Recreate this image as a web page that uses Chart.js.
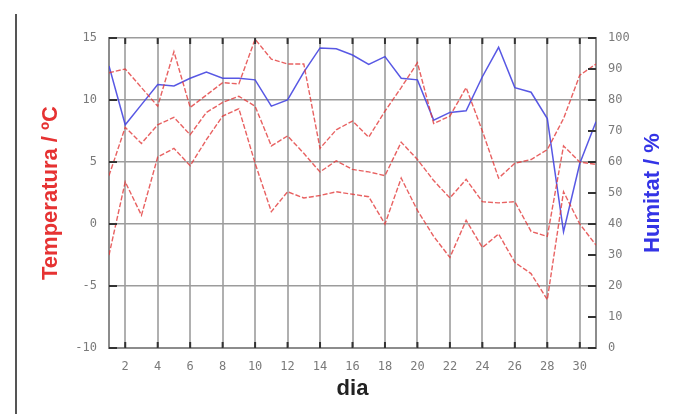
<!DOCTYPE html>
<html>
<head>
<meta charset="utf-8">
<script src="https://cdn.jsdelivr.net/npm/chart.js@4.4.1/dist/chart.umd.min.js"></script>
<style>
  html, body { margin: 0; padding: 0; background: #fff; }
  #wrap { position: relative; width: 682px; height: 414px; overflow: hidden; }
  #frame { position: absolute; left: 15px; top: 14px; width: 2px; height: 400px; background: #555; }
  canvas { position: absolute; left: 0; top: 0; }
</style>
</head>
<body>
<div id="wrap">
  <div id="frame"></div>
  <canvas id="chart" width="682" height="414"></canvas>
</div>
<script>
// days of the month and the labelled ticks
const days = [1, 2, 3, 4, 5, 6, 7, 8, 9, 10, 11, 12, 13, 14, 15, 16, 17, 18, 19, 20, 21, 22, 23, 24, 25, 26, 27, 28, 29, 30, 31];
const dayTicks = [2, 4, 6, 8, 10, 12, 14, 16, 18, 20, 22, 24, 26, 28, 30];

// temperature (ºC): max, mean, min
const tempMax = [12.2, 12.5, 11.0, 9.5, 13.9, 9.4, 10.4, 11.4, 11.3, 14.9, 13.3, 12.9, 12.9, 6.1, 7.6, 8.3, 7.0, 9.1, 11.0, 13.0, 8.1, 8.7, 11.0, 7.5, 3.7, 4.9, 5.2, 6.0, 8.5, 12.0, 12.9];
const tempMean = [3.9, 7.8, 6.5, 8.0, 8.6, 7.2, 9.0, 9.8, 10.3, 9.5, 6.3, 7.1, 5.7, 4.2, 5.1, 4.4, 4.2, 3.9, 6.6, 5.2, 3.5, 2.1, 3.6, 1.8, 1.7, 1.8, -0.6, -1.0, 6.3, 5.0, 4.8];
const tempMin = [-2.5, 3.4, 0.7, 5.4, 6.1, 4.7, 6.8, 8.7, 9.3, 4.9, 1.0, 2.6, 2.1, 2.3, 2.6, 2.4, 2.2, 0.0, 3.7, 1.1, -1.0, -2.7, 0.3, -1.9, -0.8, -3.1, -4.0, -6.1, 2.6, 0.0, -1.7];

// relative humidity (%)
const humidity = [91, 72, 78.5, 85, 84.5, 87, 89, 87, 87, 86.5, 78, 80, 89, 96.8, 96.5, 94.5, 91.5, 94, 87, 86.5, 73.5, 76, 76.5, 87.5, 97, 84, 82.5, 74, 37.5, 59.5, 73];

const tempTitle = "Temperatura / ºC";
const humTitle = "Humitat / %";
const dayTitle = "dia";

const RED = "rgba(226, 58, 58, 0.8)";
const BLUE = "rgba(70, 70, 225, 0.9)";
const tickFont = { family: "DejaVu Sans Mono", size: 12 };

const toPoints = (values) => days.map((d, i) => ({ x: d, y: values[i] }));

function redLine(values) {
  return {
    data: toPoints(values),
    yAxisID: "y",
    borderColor: RED,
    borderWidth: 1.4,
    borderDash: [5, 2],
    pointRadius: 0,
    tension: 0,
  };
}

// short dark tick marks drawn inside the plot frame
const innerTicks = {
  id: "innerTicks",
  afterDatasetsDraw(chart) {
    const { ctx, chartArea: a, scales } = chart;
    ctx.save();
    ctx.strokeStyle = "#333";
    ctx.lineWidth = 2;
    ctx.beginPath();
    scales.y.ticks.forEach((t) => {
      const py = scales.y.getPixelForValue(t.value);
      ctx.moveTo(a.left, py);
      ctx.lineTo(a.left + 8, py);
    });
    scales.y2.ticks.forEach((t) => {
      const py = scales.y2.getPixelForValue(t.value);
      ctx.moveTo(a.right - 8, py);
      ctx.lineTo(a.right, py);
    });
    dayTicks.forEach((d) => {
      const px = scales.x.getPixelForValue(d);
      ctx.moveTo(px, a.top);
      ctx.lineTo(px, a.top + 6);
      ctx.moveTo(px, a.bottom);
      ctx.lineTo(px, a.bottom - 6);
    });
    ctx.stroke();
    ctx.restore();
  },
  afterDraw(chart) {
    // right axis title reads bottom to top, like the left one
    const { ctx, chartArea: a } = chart;
    ctx.save();
    ctx.translate(653, (a.top + a.bottom) / 2);
    ctx.rotate(-Math.PI / 2);
    ctx.textAlign = "center";
    ctx.textBaseline = "middle";
    ctx.fillStyle = "#3434e6";
    ctx.font = "bold 22px 'Liberation Sans', Arial, sans-serif";
    ctx.fillText(humTitle, 0, 0);
    ctx.restore();
  },
};

new Chart(document.getElementById("chart"), {
  type: "line",
  data: {
    datasets: [
      redLine(tempMax),
      redLine(tempMean),
      redLine(tempMin),
      {
        data: toPoints(humidity),
        yAxisID: "y2",
        borderColor: BLUE,
        borderWidth: 1.5,
        pointRadius: 0,
        tension: 0,
      },
    ],
  },
  options: {
    responsive: false,
    animation: false,
    layout: { padding: { top: 38, left: 0, right: 0, bottom: 0 } },
    plugins: { legend: { display: false }, tooltip: { enabled: false } },
    scales: {
      x: {
        type: "linear",
        position: "bottom",
        min: 1,
        max: 31,
        afterBuildTicks: (s) => { s.ticks = dayTicks.map((v) => ({ value: v })); },
        afterFit: (s) => { s.height = 66; },
        grid: { color: "#b0b0b0", lineWidth: 2, drawTicks: false },
        border: { color: "#8c8c8c", width: 2 },
        ticks: { color: "#7a7a7a", font: tickFont, padding: 12, maxRotation: 0, autoSkip: false },
        title: {
          display: true,
          text: dayTitle,
          color: "#222",
          font: { family: "Liberation Sans", size: 22, weight: "bold" },
          padding: { top: 0, bottom: 12 },
        },
      },
      y: {
        position: "left",
        min: -10,
        max: 15,
        afterFit: (s) => { s.width = 109; },
        grid: { color: "#9c9c9c", lineWidth: 1.5, drawTicks: false },
        border: { color: "#8c8c8c", width: 2 },
        ticks: { stepSize: 5, color: "#7a7a7a", font: tickFont, padding: 12 },
        title: {
          display: true,
          text: tempTitle,
          color: "#e63232",
          font: { family: "Liberation Sans", size: 22, weight: "bold" },
          padding: { top: 38, bottom: 0 },
        },
      },
      y2: {
        position: "right",
        min: 0,
        max: 100,
        afterFit: (s) => { s.width = 86; },
        grid: { drawOnChartArea: false, drawTicks: false },
        border: { color: "#8c8c8c", width: 2 },
        ticks: { stepSize: 10, color: "#7a7a7a", font: tickFont, padding: 12 },
      },
    },
  },
  plugins: [innerTicks],
});
</script>
</body>
</html>
